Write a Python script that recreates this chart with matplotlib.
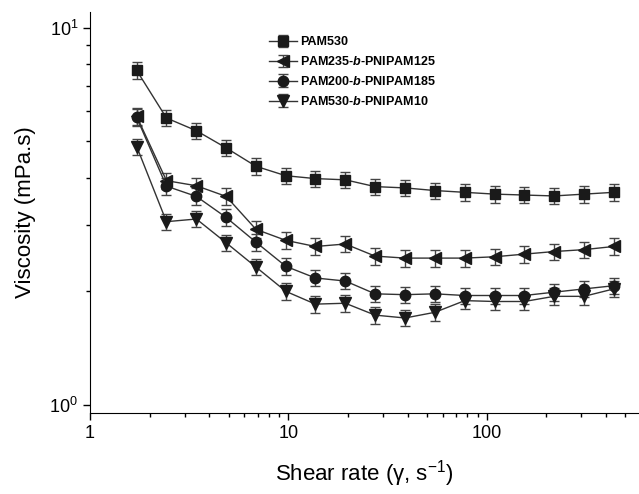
import matplotlib
matplotlib.use("Agg")
import matplotlib.pyplot as plt
from matplotlib.ticker import LogLocator, NullFormatter

plt.rcParams['font.family'] = ['Liberation Sans', 'DejaVu Sans']
plt.rcParams['mathtext.fontset'] = 'custom'
plt.rcParams['mathtext.rm'] = 'Liberation Sans'
plt.rcParams['mathtext.it'] = 'Liberation Sans:italic'
plt.rcParams['mathtext.bf'] = 'Liberation Sans:bold'
plt.rcParams['mathtext.bfit'] = 'Liberation Sans:italic:bold'

# shear rate (1/s)
shear = [1.72, 2.43, 3.44, 4.86, 6.87, 9.72, 13.7, 19.4, 27.4, 38.8,
         54.9, 77.6, 110, 155, 219, 310, 438]

# viscosity (mPa.s)
pam530 = [7.70, 5.76, 5.33, 4.80, 4.29, 4.05, 3.98, 3.95, 3.79, 3.76,
          3.70, 3.66, 3.62, 3.60, 3.58, 3.62, 3.66]
pam235 = [5.82, 3.93, 3.81, 3.57, 2.92, 2.73, 2.63, 2.67, 2.48, 2.45,
          2.45, 2.45, 2.47, 2.51, 2.55, 2.58, 2.63]
pam200 = [5.78, 3.80, 3.57, 3.14, 2.70, 2.33, 2.17, 2.13, 1.97, 1.96,
          1.97, 1.95, 1.95, 1.95, 1.99, 2.03, 2.07]
pam530b = [4.84, 3.06, 3.11, 2.69, 2.32, 2.00, 1.85, 1.86, 1.73, 1.70,
           1.76, 1.89, 1.88, 1.88, 1.94, 1.94, 2.03]

rel_err = 0.05  # error bars look like about +-5 % everywhere

labels = ['PAM530',
          r'PAM235-$\mathbfit{b}$-PNIPAM125',
          r'PAM200-$\mathbfit{b}$-PNIPAM185',
          r'PAM530-$\mathbfit{b}$-PNIPAM10']
series = [pam530, pam235, pam200, pam530b]
markers = ['s', '<', 'o', 'v']
msizes = [7, 8.5, 7.5, 8.5]

fig = plt.figure(figsize=(6.39, 4.94), dpi=100)
ax = fig.add_axes([90/639, 1-413/494, (639-90)/639, (413-12)/494])

for vals, lab, mk, ms in zip(series, labels, markers, msizes):
    err = [v*rel_err for v in vals]
    ax.errorbar(shear, vals, yerr=err, marker=mk, ms=ms, color='#333333',
                mfc='#1a1a1a', mec='#1a1a1a', lw=1.0, elinewidth=1.0,
                ecolor='#444444', capsize=3.5, capthick=1.0, label=lab)

ax.set_xscale('log')
ax.set_yscale('log')
ax.set_xlim(1, 587)
ax.set_ylim(0.952, 11.0)

ax.spines['top'].set_visible(False)
ax.spines['right'].set_visible(False)
ax.tick_params(which='major', direction='out', length=5, width=1, labelsize=13)
ax.tick_params(which='minor', direction='out', length=3, width=1)
ax.xaxis.set_major_formatter(matplotlib.ticker.FuncFormatter(lambda v, p: '%g' % v))
ax.yaxis.set_minor_locator(LogLocator(base=10, subs=range(2, 10)))
ax.yaxis.set_minor_formatter(NullFormatter())
ax.xaxis.set_minor_formatter(NullFormatter())

ax.set_xlabel(r'Shear rate (γ, s$^{-1}$)', fontsize=16, labelpad=12)
ax.set_ylabel('Viscosity (mPa.s)', fontsize=16, labelpad=10)

leg = ax.legend(loc='upper left', bbox_to_anchor=(0.315, 0.955), frameon=False,
                prop={'weight': 'bold', 'size': 9}, handlelength=2.2,
                handletextpad=0.3, labelspacing=0.55, borderpad=0)

fig.savefig('out.png', dpi=100)
